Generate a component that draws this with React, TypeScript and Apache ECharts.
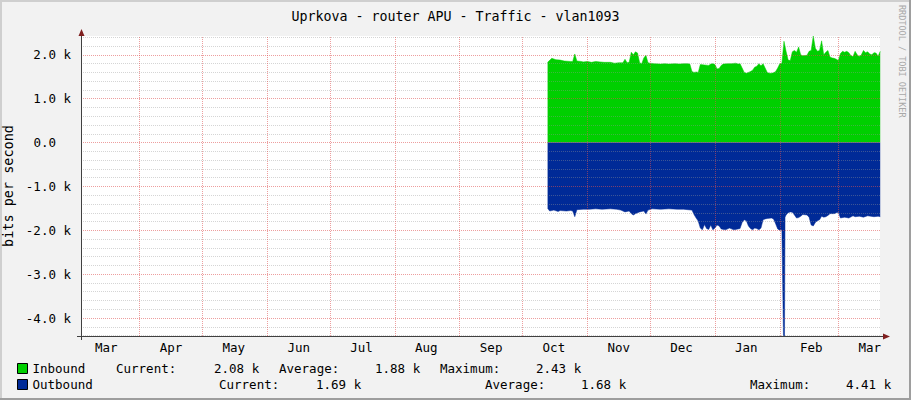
import React, { useEffect, useRef } from "react";
import * as echarts from "echarts";

const FONT = "DejaVu Sans Mono";

const TITLE = "Uprkova - router APU - Traffic - vlan1093";
const Y_NAME = "bits per second";
const WATERMARK = "RRDTOOL / TOBI OETIKER";

const MONTHS = ["Mar", "Apr", "May", "Jun", "Jul", "Aug", "Sep", "Oct", "Nov", "Dec", "Jan", "Feb", "Mar"];
const MONTH_LABEL_DATES = [
  "2018-03-16", "2018-04-16", "2018-05-16", "2018-06-16", "2018-07-16", "2018-08-16", "2018-09-16",
  "2018-10-16", "2018-11-16", "2018-12-16", "2019-01-16", "2019-02-16", "2019-03-16",
];
const MONTH_STARTS = [
  "2018-04-01", "2018-05-01", "2018-06-01", "2018-07-01", "2018-08-01", "2018-09-01", "2018-10-01",
  "2018-11-01", "2018-12-01", "2019-01-01", "2019-02-01", "2019-03-01",
];
const Y_TICKS = [-4000, -3000, -2000, -1000, 0, 1000, 2000];

const INBOUND: [string, number][] = [
  ["2018-10-13", 1830], ["2018-10-15", 1920], ["2018-10-17", 1890], ["2018-10-19", 1880], ["2018-10-21", 1860],
  ["2018-10-24", 1850], ["2018-10-25", 1850], ["2018-10-26", 2020], ["2018-10-27", 1860], ["2018-10-29", 1850],
  ["2018-10-30", 1840], ["2018-11-01", 1850], ["2018-11-03", 1830], ["2018-11-05", 1850], ["2018-11-07", 1840],
  ["2018-11-09", 1830], ["2018-11-12", 1830], ["2018-11-14", 1810], ["2018-11-16", 1820], ["2018-11-18", 1820],
  ["2018-11-19", 1900], ["2018-11-20", 1820], ["2018-11-21", 1830], ["2018-11-22", 2060], ["2018-11-23", 2000],
  ["2018-11-24", 2070], ["2018-11-25", 2040], ["2018-11-26", 1820], ["2018-11-27", 1800], ["2018-11-28", 1930],
  ["2018-11-29", 1990], ["2018-11-30", 1820], ["2018-12-01", 1810], ["2018-12-03", 1800], ["2018-12-06", 1790],
  ["2018-12-08", 1800], ["2018-12-10", 1790], ["2018-12-13", 1800], ["2018-12-15", 1790], ["2018-12-17", 1800],
  ["2018-12-19", 1800], ["2018-12-20", 1790], ["2018-12-21", 1620], ["2018-12-22", 1600], ["2018-12-23", 1610],
  ["2018-12-24", 1600], ["2018-12-25", 1780], ["2018-12-27", 1770], ["2018-12-29", 1760], ["2018-12-30", 1790],
  ["2018-12-31", 1800], ["2019-01-01", 1780], ["2019-01-02", 1680], ["2019-01-03", 1690], ["2019-01-04", 1760],
  ["2019-01-05", 1790], ["2019-01-07", 1800], ["2019-01-09", 1800], ["2019-01-11", 1810], ["2019-01-12", 1790],
  ["2019-01-13", 1800], ["2019-01-14", 1700], ["2019-01-15", 1600], ["2019-01-16", 1580], ["2019-01-17", 1600],
  ["2019-01-18", 1620], ["2019-01-19", 1650], ["2019-01-20", 1720], ["2019-01-21", 1740], ["2019-01-22", 1800],
  ["2019-01-23", 1750], ["2019-01-24", 1800], ["2019-01-25", 1700], ["2019-01-26", 1600], ["2019-01-27", 1580],
  ["2019-01-28", 1580], ["2019-01-29", 1590], ["2019-01-30", 1620], ["2019-01-31", 1700], ["2019-02-01", 1800],
  ["2019-02-02", 1810], ["2019-02-03", 2310], ["2019-02-04", 2080], ["2019-02-05", 1880], ["2019-02-06", 1870],
  ["2019-02-07", 2070], ["2019-02-08", 2100], ["2019-02-09", 2060], ["2019-02-10", 2180], ["2019-02-11", 2000],
  ["2019-02-12", 1980], ["2019-02-14", 1990], ["2019-02-15", 2080], ["2019-02-16", 2100], ["2019-02-17", 2430],
  ["2019-02-18", 2150], ["2019-02-19", 2080], ["2019-02-20", 2100], ["2019-02-21", 2320], ["2019-02-22", 2000],
  ["2019-02-23", 2060], ["2019-02-24", 2100], ["2019-02-25", 1950], ["2019-02-26", 1930], ["2019-02-27", 1920],
  ["2019-02-28", 1900], ["2019-03-01", 1870], ["2019-03-02", 2030], ["2019-03-03", 2080], ["2019-03-04", 2060],
  ["2019-03-05", 2080], ["2019-03-06", 2050], ["2019-03-07", 1980], ["2019-03-08", 1960], ["2019-03-09", 2080],
  ["2019-03-10", 2000], ["2019-03-11", 1960], ["2019-03-12", 2000], ["2019-03-13", 2100], ["2019-03-14", 2050],
  ["2019-03-15", 2070], ["2019-03-16", 2020], ["2019-03-17", 2000], ["2019-03-18", 2050], ["2019-03-19", 2040],
  ["2019-03-20", 1970], ["2019-03-21", 2080],
];

const OUTBOUND: [string, number][] = [
  ["2018-10-13", 1500], ["2018-10-14", 1560], ["2018-10-16", 1540], ["2018-10-18", 1570], ["2018-10-19", 1550],
  ["2018-10-22", 1560], ["2018-10-24", 1550], ["2018-10-25", 1560], ["2018-10-26", 1690], ["2018-10-27", 1530],
  ["2018-10-30", 1520], ["2018-11-02", 1520], ["2018-11-05", 1510], ["2018-11-08", 1520], ["2018-11-12", 1510],
  ["2018-11-15", 1520], ["2018-11-17", 1540], ["2018-11-19", 1580], ["2018-11-21", 1560], ["2018-11-22", 1620],
  ["2018-11-23", 1650], ["2018-11-24", 1620], ["2018-11-25", 1600], ["2018-11-26", 1580], ["2018-11-28", 1560],
  ["2018-11-29", 1630], ["2018-11-30", 1540], ["2018-12-02", 1510], ["2018-12-06", 1520], ["2018-12-10", 1510],
  ["2018-12-14", 1520], ["2018-12-17", 1520], ["2018-12-19", 1530], ["2018-12-21", 1540], ["2018-12-22", 1640],
  ["2018-12-23", 1720], ["2018-12-24", 1790], ["2018-12-25", 1950], ["2018-12-26", 1990], ["2018-12-27", 1870],
  ["2018-12-28", 1960], ["2018-12-29", 1980], ["2018-12-30", 1880], ["2018-12-31", 1990], ["2019-01-01", 1950],
  ["2019-01-02", 1880], ["2019-01-03", 1900], ["2019-01-04", 1970], ["2019-01-06", 1990], ["2019-01-08", 1950],
  ["2019-01-10", 1990], ["2019-01-12", 1970], ["2019-01-13", 1960], ["2019-01-14", 1820], ["2019-01-15", 1760],
  ["2019-01-16", 1780], ["2019-01-17", 1900], ["2019-01-18", 1960], ["2019-01-19", 1990], ["2019-01-20", 1950],
  ["2019-01-21", 1960], ["2019-01-22", 1990], ["2019-01-23", 1950], ["2019-01-24", 1760], ["2019-01-25", 1740],
  ["2019-01-26", 1730], ["2019-01-28", 1720], ["2019-01-29", 1740], ["2019-01-30", 1850], ["2019-01-31", 1970],
  ["2019-02-01", 2000], ["2019-02-02", 1990], ["2019-02-02T18:00", 4410], ["2019-02-03T06:00", 4410],
  ["2019-02-03T12:00", 1700], ["2019-02-04", 1650], ["2019-02-05", 1600], ["2019-02-06", 1580], ["2019-02-07", 1590],
  ["2019-02-08", 1650], ["2019-02-09", 1720], ["2019-02-10", 1710], ["2019-02-11", 1680], ["2019-02-12", 1640],
  ["2019-02-14", 1650], ["2019-02-15", 1700], ["2019-02-16", 1880], ["2019-02-17", 1900], ["2019-02-18", 1820],
  ["2019-02-19", 1780], ["2019-02-20", 1760], ["2019-02-21", 1680], ["2019-02-22", 1700], ["2019-02-23", 1690],
  ["2019-02-24", 1660], ["2019-02-25", 1620], ["2019-02-27", 1620], ["2019-02-28", 1600], ["2019-03-01", 1590],
  ["2019-03-02", 1720], ["2019-03-04", 1700], ["2019-03-06", 1720], ["2019-03-08", 1670], ["2019-03-09", 1690],
  ["2019-03-11", 1680], ["2019-03-13", 1700], ["2019-03-15", 1670], ["2019-03-18", 1690], ["2019-03-20", 1680],
  ["2019-03-21", 1690],
];

const STAT_LABELS = ["Current:", "Average:", "Maximum:"];
const INBOUND_STATS = ["2.08 k", "1.88 k", "2.43 k"];
const OUTBOUND_STATS = ["1.69 k", "1.68 k", "4.41 k"];

const DAY = 86400000;
const t = (s: string) => Date.parse(s.length === 10 ? s + "T00:00:00Z" : s + ":00Z");

export default function App() {
  const ref = useRef<HTMLDivElement>(null);

  useEffect(() => {
    document.body.style.margin = "0";
    const el = ref.current;
    if (!el) return;
    const chart = echarts.init(el, null, { renderer: "svg", width: 911, height: 400 });

    const labelTs = MONTH_LABEL_DATES.map(t);
    const ref0 = t("2018-10-01");
    const xMin = ref0 - 211.05 * DAY;
    const xMax = ref0 + 170.9 * DAY;

    const minorStyle = { color: "rgba(150,150,150,0.4)", width: 1, type: [1, 1] };
    const majorStyle = { color: "rgba(222,79,79,0.55)", width: 1, type: [1, 1] };

    const minorVals: number[] = [];
    for (let v = -4400; v <= 2400; v += 200) if (v % 1000 !== 0) minorVals.push(v);

    const gridLines = [
      ...minorVals.map((v) => ({ yAxis: v, lineStyle: minorStyle })),
      ...Y_TICKS.map((v) => ({ yAxis: v, lineStyle: majorStyle })),
      ...MONTH_STARTS.map((d) => ({ xAxis: t(d), lineStyle: majorStyle })),
    ];

    const textStyle = { fontFamily: FONT, fontSize: 12.5, fill: "#000", verticalAlign: "middle", align: "left" };
    const statX1 = [116, 279, 440];
    const statV1 = [214, 375, 536];
    const statX2 = [219, 485, 750];
    const statV2 = [316, 581, 846];

    const graphics: any[] = [
      { type: "rect", shape: { x: 0, y: 0, width: 911, height: 2 }, style: { fill: "#cfcfcf" }, silent: true },
      { type: "rect", shape: { x: 0, y: 0, width: 2, height: 400 }, style: { fill: "#cfcfcf" }, silent: true },
      { type: "rect", shape: { x: 909, y: 0, width: 2, height: 400 }, style: { fill: "#9e9e9e" }, silent: true },
      { type: "rect", shape: { x: 0, y: 398, width: 911, height: 2 }, style: { fill: "#9e9e9e" }, silent: true },
      { type: "line", shape: { x1: 81.5, y1: 31, x2: 81.5, y2: 340 }, style: { stroke: "#404040", lineWidth: 1 }, z: 100 },
      { type: "line", shape: { x1: 77, y1: 336.5, x2: 884, y2: 336.5 }, style: { stroke: "#404040", lineWidth: 1 }, z: 100 },
      { type: "polygon", shape: { points: [[78.5, 36], [84.5, 36], [81.5, 29]] }, style: { fill: "#7f1f1f" }, z: 101 },
      { type: "polygon", shape: { points: [[883, 333.5], [883, 339.5], [890, 336.5]] }, style: { fill: "#7f1f1f" }, z: 101 },
      {
        type: "text", x: 902, y: 5, rotation: -Math.PI / 2,
        style: { text: WATERMARK, fontFamily: FONT, fontSize: 8.5, fill: "#a8a8a8", verticalAlign: "middle", align: "left" },
      },
    ];
    STAT_LABELS.forEach((s, i) => {
      graphics.push({ type: "text", x: statX1[i], y: 368, style: { ...textStyle, text: s } });
      graphics.push({ type: "text", x: statV1[i], y: 368, style: { ...textStyle, text: INBOUND_STATS[i] } });
      graphics.push({ type: "text", x: statX2[i], y: 384, style: { ...textStyle, text: s } });
      graphics.push({ type: "text", x: statV2[i], y: 384, style: { ...textStyle, text: OUTBOUND_STATS[i] } });
    });

    const legendBase = {
      orient: "horizontal",
      left: 17,
      icon: "rect",
      itemWidth: 10,
      itemHeight: 10,
      itemStyle: { borderColor: "#000", borderWidth: 1 },
      textStyle: { fontFamily: FONT, fontSize: 12.5, color: "#000" },
      selectedMode: false,
      padding: 0,
    };

    const option: any = {
      animation: false,
      backgroundColor: "#f2f2f2",
      title: {
        text: TITLE,
        left: "center",
        top: 5,
        textStyle: { fontFamily: FONT, fontSize: 13.3, fontWeight: "normal", color: "#000" },
      },
      legend: [
        { ...legendBase, data: ["Inbound"], top: 362 },
        { ...legendBase, data: ["Outbound"], top: 378 },
      ],
      grid: {
        left: 81, top: 36, right: 31, bottom: 64,
        containLabel: false, outerBoundsMode: "none",
        show: true, backgroundColor: "#ffffff", borderWidth: 0,
      },
      xAxis: {
        type: "value",
        min: xMin,
        max: xMax,
        axisLine: { show: false },
        axisTick: { show: false },
        splitLine: { show: false },
        axisLabel: {
          customValues: labelTs,
          formatter: (v: number) => {
            const i = labelTs.indexOf(v);
            return i >= 0 ? MONTHS[i] : "";
          },
          fontFamily: FONT,
          fontSize: 12.5,
          color: "#000",
          margin: 5,
          showMinLabel: true,
          showMaxLabel: true,
          hideOverlap: false,
        },
      },
      yAxis: {
        type: "value",
        min: -4410,
        max: 2430,
        name: Y_NAME,
        nameLocation: "middle",
        nameGap: 59,
        nameTextStyle: { fontFamily: FONT, fontSize: 13.5, color: "#000" },
        axisLine: { show: false },
        axisTick: { show: false },
        splitLine: { show: false },
        axisLabel: {
          customValues: Y_TICKS,
          formatter: (v: number) => (v === 0 ? "{z|0.0}" : `${(v / 1000).toFixed(1)} k`),
          rich: { z: { fontFamily: FONT, fontSize: 12.5, color: "#000", padding: [0, 15, 0, 0] } },
          fontFamily: FONT,
          fontSize: 12.5,
          color: "#000",
          margin: 10,
        },
      },
      series: [
        {
          name: "Inbound",
          type: "line",
          data: INBOUND.map(([d, v]) => [t(d), v]),
          showSymbol: false,
          symbol: "none",
          color: "#00CF00",
          lineStyle: { width: 0.5, color: "#00CF00" },
          areaStyle: { color: "#00CF00", opacity: 1 },
          z: 2,
        },
        {
          name: "Outbound",
          type: "line",
          data: OUTBOUND.map(([d, v]) => [t(d), -v]),
          showSymbol: false,
          symbol: "none",
          color: "#002A97",
          lineStyle: { width: 0.5, color: "#002A97" },
          areaStyle: { color: "#002A97", opacity: 1 },
          z: 2,
          markLine: {
            silent: true,
            symbol: ["none", "none"],
            label: { show: false },
            animation: false,
            z: 5,
            data: gridLines,
          },
        },
      ],
      graphic: graphics,
    };

    chart.setOption(option);
    return () => chart.dispose();
  }, []);

  return <div ref={ref} style={{ width: 911, height: 400, position: "absolute", left: 0, top: 0 }} />;
}
